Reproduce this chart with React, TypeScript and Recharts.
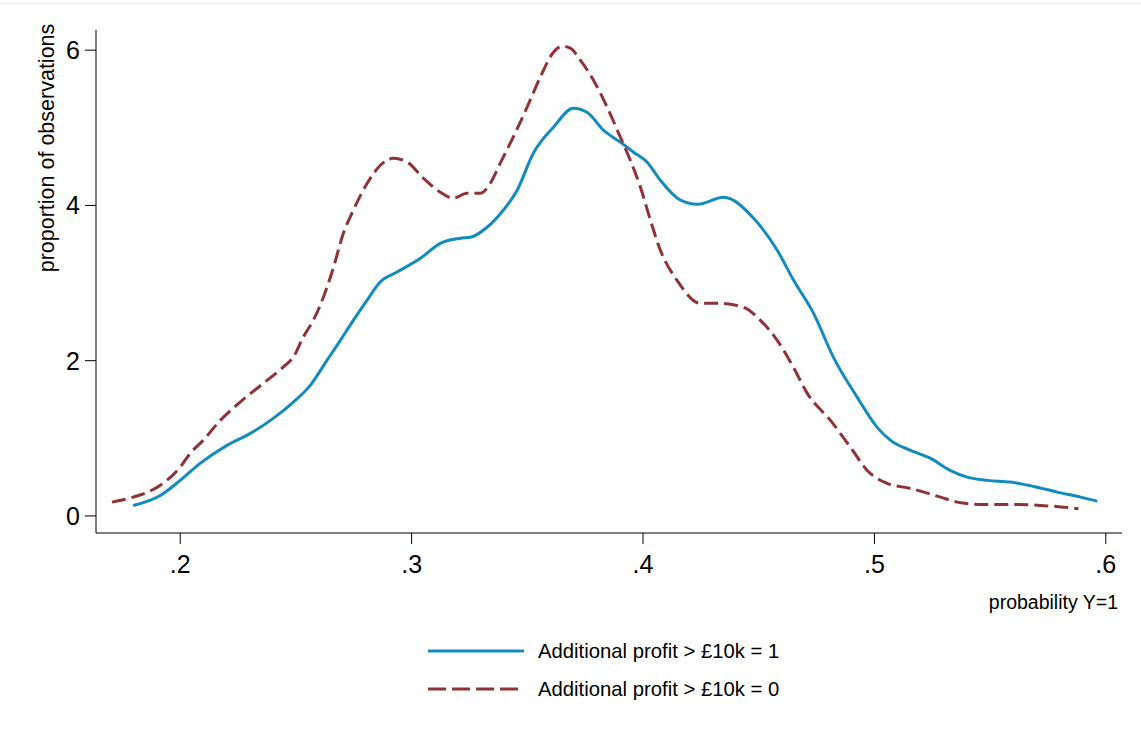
import React from 'react';
import { LineChart, Line, XAxis, YAxis } from 'recharts';

// kernel density of predicted probability, split by outcome group
const probProfitYes = [
  0.1797, 0.1914, 0.2, 0.2086, 0.2202, 0.2303, 0.2402, 0.2489, 0.2562, 0.2634,
  0.2692, 0.2748, 0.2807, 0.2864, 0.2937, 0.3038, 0.3124, 0.3211, 0.3254, 0.3326,
  0.3396, 0.3456, 0.3526, 0.3613, 0.3699, 0.3758, 0.3829, 0.3902, 0.3959, 0.4018,
  0.4075, 0.4162, 0.4235, 0.4348, 0.4478, 0.458, 0.4651, 0.4737, 0.4823, 0.4926,
  0.5012, 0.507, 0.5156, 0.5243, 0.5329, 0.5401, 0.5488, 0.5588, 0.5688, 0.579,
  0.5891, 0.5963,
];
const densityProfitYes = [
  0.135, 0.264, 0.458, 0.677, 0.909, 1.063, 1.257, 1.467, 1.682, 2.004,
  2.262, 2.52, 2.777, 3.014, 3.142, 3.319, 3.512, 3.577, 3.59, 3.719,
  3.938, 4.196, 4.673, 5.008, 5.253, 5.201, 4.969, 4.815, 4.686, 4.556,
  4.324, 4.067, 4.015, 4.105, 3.834, 3.422, 3.035, 2.61, 2.043, 1.527,
  1.141, 0.973, 0.844, 0.741, 0.584, 0.5, 0.458, 0.436, 0.38, 0.307,
  0.242, 0.191,
];

const probProfitNo = [
  0.1705, 0.1797, 0.187, 0.1942, 0.2, 0.2043, 0.2099, 0.2173, 0.2259, 0.2359,
  0.2445, 0.2489, 0.2532, 0.2575, 0.2619, 0.2661, 0.2705, 0.2748, 0.2808, 0.2865,
  0.2921, 0.298, 0.3051, 0.3124, 0.318, 0.3239, 0.3297, 0.334, 0.3383, 0.3439,
  0.3499, 0.3556, 0.3613, 0.365, 0.3686, 0.3729, 0.3786, 0.3845, 0.3902, 0.3945,
  0.3989, 0.4032, 0.4075, 0.4147, 0.4248, 0.432, 0.4434, 0.4507, 0.458, 0.465,
  0.471, 0.481, 0.4897, 0.4969, 0.5055, 0.5156, 0.5286, 0.5358, 0.5472, 0.5617,
  0.5718, 0.5818, 0.5882,
];
const densityProfitNo = [
  0.178, 0.242, 0.32, 0.458, 0.629, 0.806, 0.973, 1.231, 1.467, 1.708,
  1.918, 2.047, 2.305, 2.52, 2.82, 3.19, 3.641, 3.938, 4.286, 4.518,
  4.608, 4.56, 4.35, 4.17, 4.093, 4.157, 4.157, 4.286, 4.544, 4.879,
  5.265, 5.652, 5.974, 6.052, 6.026, 5.871, 5.613, 5.265, 4.879, 4.583,
  4.234, 3.809, 3.422, 3.035, 2.739, 2.739, 2.688, 2.52, 2.262, 1.914,
  1.579, 1.231, 0.883, 0.586, 0.419, 0.354, 0.242, 0.178, 0.148, 0.148,
  0.135, 0.113, 0.093,
];

const xTicks = [0.2, 0.3, 0.4, 0.5, 0.6];
const yTicks = [0, 2, 4, 6];
const seriesNames = ['Additional profit > £10k = 1', 'Additional profit > £10k = 0'];

const BLUE = '#138bbf';
const RED = '#8f3339';
const FONT = "Arial, 'Liberation Sans', Helvetica, sans-serif";

const toPoints = (xs: number[], ys: number[]) => xs.map((p, i) => ({ p, d: ys[i] }));
const yesData = toPoints(probProfitYes, densityProfitYes);
const noData = toPoints(probProfitNo, densityProfitNo);

const fmtProb = (v: number) => String(v).replace(/^0\./, '.');

export default function App() {
  return (
    <div style={{ position: 'absolute', left: 0, top: 0, width: 1141, height: 742, background: '#fff', fontFamily: FONT }}>
      <div style={{ position: 'absolute', left: 0, top: 3, width: 1141, height: 1, background: '#ececec' }} />
      <LineChart width={1141} height={742} margin={{ top: 30, right: 19, bottom: 149, left: 0 }}>
        <XAxis
          type="number"
          dataKey="p"
          domain={[0.1636, 0.607]}
          ticks={xTicks}
          tickFormatter={fmtProb}
          allowDataOverflow
          height={60}
          stroke="#000"
          tickSize={11}
          tickMargin={11}
          tick={{ fill: '#000', fontSize: 25, fontFamily: FONT }}
        />
        <YAxis
          type="number"
          domain={[-0.22, 6.26]}
          ticks={yTicks}
          allowDataOverflow
          width={96}
          stroke="#000"
          tickSize={11}
          tickMargin={5}
          tick={{ fill: '#000', fontSize: 25, fontFamily: FONT }}
        />
        <Line
          data={yesData}
          dataKey="d"
          type="monotone"
          stroke={BLUE}
          strokeWidth={3}
          dot={false}
          isAnimationActive={false}
        />
        <Line
          data={noData}
          dataKey="d"
          type="monotone"
          stroke={RED}
          strokeWidth={3}
          strokeDasharray="14 6"
          dot={false}
          isAnimationActive={false}
        />
      </LineChart>

      <div
        style={{
          position: 'absolute',
          left: 47,
          top: 148,
          transform: 'translate(-50%, -50%) rotate(-90deg)',
          fontSize: 21.5,
          whiteSpace: 'nowrap',
          color: '#000',
        }}
      >
        proportion of observations
      </div>
      <div style={{ position: 'absolute', right: 23, top: 591, fontSize: 19.5, color: '#000', whiteSpace: 'nowrap' }}>
        probability Y=1
      </div>

      <svg style={{ position: 'absolute', left: 0, top: 0 }} width={1141} height={742}>
        <line x1={428} x2={524} y1={651} y2={651} stroke={BLUE} strokeWidth={3} />
        <line x1={428} x2={524} y1={689} y2={689} stroke={RED} strokeWidth={3} strokeDasharray="18 6" />
        <text x={538} y={658} fontSize={20.3} fontFamily={FONT} fill="#000">{seriesNames[0]}</text>
        <text x={538} y={696} fontSize={20.3} fontFamily={FONT} fill="#000">{seriesNames[1]}</text>
      </svg>
    </div>
  );
}
